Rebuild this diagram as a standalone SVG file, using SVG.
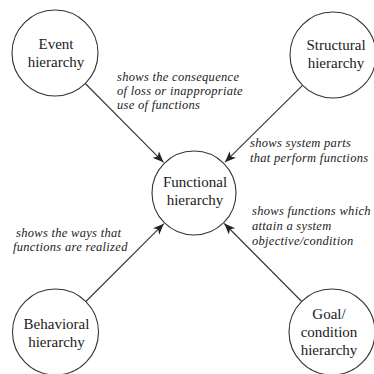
<svg xmlns="http://www.w3.org/2000/svg" width="374" height="374" viewBox="0 0 374 374">
  <style>
    .node circle { fill: #ffffff; stroke: #333333; stroke-width: 1.1; }
    .node text { font-family: 'Liberation Serif', 'Times New Roman', Tinos, 'DejaVu Serif', 'Noto Serif', serif; font-size: 15px; fill: #1a1a1a; text-anchor: middle; }
    .edge { stroke: #333333; stroke-width: 1.1; fill: none; marker-end: url(#arrow); }
    .label { font-family: 'Liberation Serif', 'Times New Roman', Tinos, 'DejaVu Serif', 'Noto Serif', serif; font-style: italic; font-size: 12.5px; letter-spacing: 0.3px; fill: #222222; }
  </style>
  <defs>
    <marker id="arrow" markerUnits="userSpaceOnUse" markerWidth="12" markerHeight="10" refX="11" refY="4.5" orient="auto">
      <path d="M0,0 L11,4.5 L0,9 L3,4.5 z" fill="#222222"/>
    </marker>
  </defs>
  <rect width="374" height="374" fill="#ffffff"/>

  <!-- connectors -->
  <g id="connectors">
    <line class="edge" x1="85.3" y1="83.5" x2="163.5" y2="162.3"/>
    <line class="edge" x1="302.5" y1="85.3" x2="225" y2="162.2"/>
    <line class="edge" x1="85.9" y1="301.5" x2="163.8" y2="223.7"/>
    <line class="edge" x1="301.7" y1="301.5" x2="224.3" y2="223.5"/>
  </g>

  <!-- relation labels -->
  <g id="labels">
    <text class="label" x="117" y="81">shows the consequence</text>
    <text class="label" x="117" y="95">of loss or inappropriate</text>
    <text class="label" x="117" y="109">use of functions</text>

    <text class="label" x="250" y="147">shows system parts</text>
    <text class="label" x="250" y="162">that perform functions</text>

    <text class="label" x="16" y="237">shows the ways that</text>
    <text class="label" x="13" y="251">functions are realized</text>

    <text class="label" x="252" y="215">shows functions which</text>
    <text class="label" x="252" y="230">attain a system</text>
    <text class="label" x="252" y="245">objective/condition</text>
  </g>

  <!-- nodes -->
  <g id="event" class="node">
    <circle cx="55" cy="53" r="43"/>
    <text x="56" y="49">Event</text>
    <text x="56" y="66.5">hierarchy</text>
  </g>
  <g id="structural" class="node">
    <circle cx="333" cy="55" r="43"/>
    <text x="336" y="50">Structural</text>
    <text x="336" y="68">hierarchy</text>
  </g>
  <g id="functional" class="node">
    <circle cx="194" cy="193" r="42"/>
    <text x="195" y="187">Functional</text>
    <text x="195" y="205">hierarchy</text>
  </g>
  <g id="behavioral" class="node">
    <circle cx="55.5" cy="332" r="43"/>
    <text x="56.5" y="329">Behavioral</text>
    <text x="56.5" y="347">hierarchy</text>
  </g>
  <g id="goal" class="node">
    <circle cx="332" cy="332" r="43"/>
    <text x="329" y="319">Goal/</text>
    <text x="329" y="337">condition</text>
    <text x="329" y="355">hierarchy</text>
  </g>
</svg>
